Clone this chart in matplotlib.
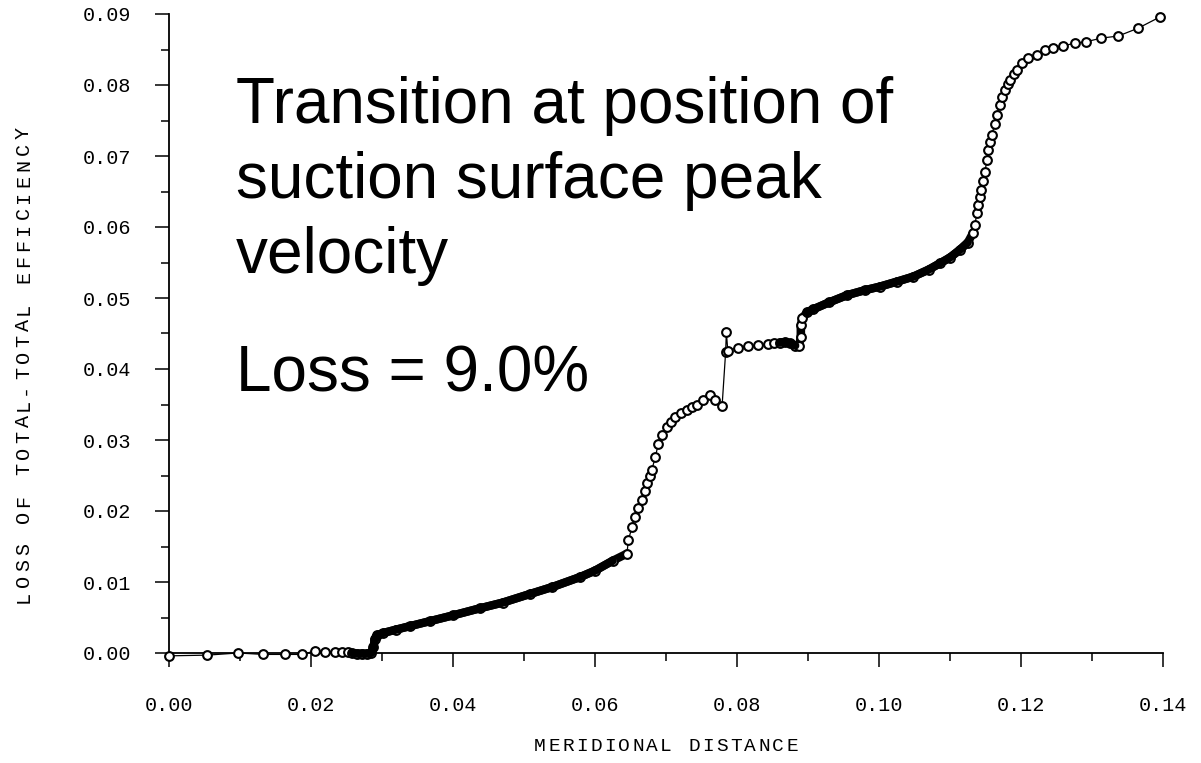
import matplotlib
matplotlib.use("Agg")
import numpy as np
import matplotlib.pyplot as plt
from matplotlib.ticker import MultipleLocator, FormatStrFormatter

# meridional distance and loss of total-total efficiency along the suction surface
dist = [0.0000, 0.0054, 0.0097, 0.0133, 0.0163, 0.0187, 0.0206, 0.0220, 0.0234,
        0.0244, 0.0252, 0.0258, 0.0265, 0.0272, 0.0279, 0.0285, 0.0288, 0.0290,
        0.0293, 0.0301, 0.0320, 0.0340, 0.0368, 0.0400, 0.0438, 0.0470, 0.0508,
        0.0540, 0.0579, 0.0600, 0.0625, 0.0645,
        0.0647, 0.0652, 0.0656, 0.0661, 0.0666, 0.0670, 0.0673, 0.0677, 0.0680,
        0.0685, 0.0689, 0.0695, 0.0701, 0.0707, 0.0713, 0.0721, 0.0729, 0.0736,
        0.0743, 0.0752, 0.0762, 0.0769, 0.0779,
        0.0784, 0.0785, 0.0787, 0.0801, 0.0815, 0.0830, 0.0844, 0.0852, 0.0860,
        0.0868, 0.0875, 0.0882, 0.0887, 0.0890, 0.0890, 0.0892, 0.0899, 0.0907,
        0.0930, 0.0955, 0.0980, 0.1001, 0.1025, 0.1048, 0.1070, 0.1086, 0.1100,
        0.1114, 0.1125, 0.1132,
        0.1135, 0.1138, 0.1140, 0.1142, 0.1144, 0.1146, 0.1149, 0.1152, 0.1154,
        0.1156, 0.1159, 0.1163, 0.1166, 0.1170, 0.1173, 0.1177, 0.1181, 0.1185,
        0.1190, 0.1194, 0.1201, 0.1210, 0.1222, 0.1234, 0.1245, 0.1259, 0.1276,
        0.1292, 0.1313, 0.1337, 0.1365, 0.1396]
loss = [-0.0004, -0.0003, 0.0000, -0.0002, -0.0002, -0.0002, 0.0003, 0.0002, 0.0002,
        0.0002, 0.0001, 0.0000, -0.0001, -0.0001, -0.0001, 0.0000, 0.0008, 0.0020,
        0.0025, 0.0028, 0.0033, 0.0038, 0.0045, 0.0053, 0.0063, 0.0071, 0.0083,
        0.0093, 0.0107, 0.0116, 0.0130, 0.0140,
        0.0159, 0.0177, 0.0192, 0.0204, 0.0215, 0.0228, 0.0239, 0.0249, 0.0258,
        0.0276, 0.0294, 0.0307, 0.0318, 0.0326, 0.0332, 0.0338, 0.0342, 0.0346,
        0.0349, 0.0356, 0.0363, 0.0356, 0.0348,
        0.0424, 0.0452, 0.0426, 0.0430, 0.0432, 0.0434, 0.0435, 0.0436, 0.0437,
        0.0438, 0.0436, 0.0433, 0.0433, 0.0445, 0.0462, 0.0472, 0.0480, 0.0484,
        0.0494, 0.0504, 0.0511, 0.0516, 0.0523, 0.0530, 0.0540, 0.0549, 0.0557,
        0.0568, 0.0578, 0.0591,
        0.0603, 0.0620, 0.0631, 0.0642, 0.0652, 0.0665, 0.0677, 0.0694, 0.0708,
        0.0720, 0.0730, 0.0745, 0.0758, 0.0772, 0.0783, 0.0793, 0.0801, 0.0807,
        0.0815, 0.0821, 0.0831, 0.0838, 0.0842, 0.0849, 0.0852, 0.0855, 0.0859,
        0.0861, 0.0866, 0.0869, 0.0880, 0.0896]

# stretches where the solver points sit so close they merge into a solid band
dense_spans = [(0.0252, 0.0645), (0.0852, 0.0890), (0.0890, 0.1132)]

x = np.array(dist)
y = np.array(loss)

W, H = 1201, 763
mono = "Liberation Mono"


def spaced_text(fig, s, cx, base, pitch, rotation=0, **kw):
    # plotter-style lettering: one glyph per cell, fixed pitch in pixels
    n = len(s)
    for i, ch in enumerate(s):
        off = (i - (n - 1) / 2) * pitch
        if rotation == 0:
            px, py = cx + off, base
        else:
            px, py = base, cx - off
        fig.text(px / W, 1 - py / H, ch, ha="center", va="baseline",
                 rotation=rotation, rotation_mode="anchor", **kw)


fig = plt.figure(figsize=(W / 100, H / 100), dpi=100)
ax = fig.add_axes([169 / W, 1 - 653 / H, (1163 - 169) / W, (653 - 14) / H])

ax.plot(x, y, color="black", lw=0.9, zorder=2, clip_on=False)
for lo, hi in dense_spans:
    m = (x >= lo) & (x <= hi)
    ax.plot(x[m], y[m], color="black", lw=6, solid_capstyle="round",
            solid_joinstyle="round", zorder=3, clip_on=False)
ax.plot(x, y, "o", ms=6.3, mfc="white", mec="black", mew=1.5, zorder=4, clip_on=False)
for lo, hi in dense_spans:
    m = (x > lo + 0.0004) & (x < hi - 0.0004)
    ax.plot(x[m], y[m], color="black", lw=6, solid_capstyle="round", zorder=5,
            clip_on=False)

ax.set_xlim(0, 0.14)
ax.set_ylim(0, 0.09)
for s in ("top", "right"):
    ax.spines[s].set_visible(False)
for s in ("left", "bottom"):
    ax.spines[s].set_linewidth(1.3)

ax.xaxis.set_major_locator(MultipleLocator(0.02))
ax.xaxis.set_minor_locator(MultipleLocator(0.01))
ax.yaxis.set_major_locator(MultipleLocator(0.01))
ax.yaxis.set_minor_locator(MultipleLocator(0.005))
ax.xaxis.set_major_formatter(FormatStrFormatter("%.2f"))
ax.yaxis.set_major_formatter(FormatStrFormatter("%.2f"))
ax.tick_params(which="major", direction="out", length=10, width=1.1)
ax.tick_params(which="minor", direction="out", length=5.5, width=1.1)
ax.tick_params(axis="x", which="major", pad=21)
ax.tick_params(axis="y", which="major", pad=17)
for lab in ax.get_xticklabels() + ax.get_yticklabels():
    lab.set_fontfamily(mono)
    lab.set_fontsize(14.5)

# axis titles
spaced_text(fig, "MERIDIONAL DISTANCE", 666, 751, 14, fontfamily=mono, fontsize=14)
spaced_text(fig, "LOSS OF TOTAL-TOTAL EFFICIENCY", 365, 29, 16, rotation=90,
            fontfamily=mono, fontsize=14.5)

# annotation text in pixel coordinates
big = dict(fontfamily="Liberation Sans", fontsize=46, color="black", va="baseline")
fig.text(236 / W, 1 - 123 / H, "Transition at position of", **big)
fig.text(236 / W, 1 - 198 / H, "suction surface peak", **big)
fig.text(236 / W, 1 - 273 / H, "velocity", **big)
fig.text(236 / W, 1 - 392 / H, "Loss = 9.0%", **big)

fig.savefig("out.png", dpi=100, facecolor="white")
